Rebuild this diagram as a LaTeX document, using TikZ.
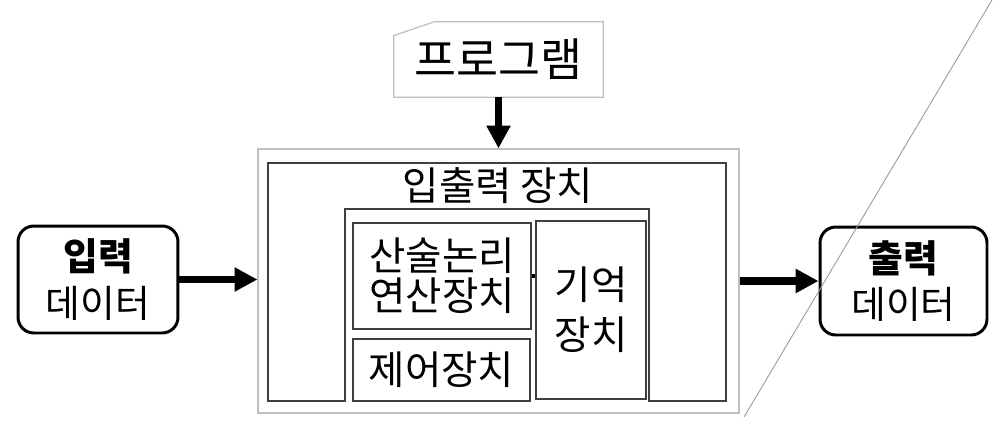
\documentclass[tikz,border=0pt]{standalone}
\usepackage{fontspec}
\setmainfont{Noto Sans CJK KR}
\usetikzlibrary{arrows.meta,calc,positioning}

\begin{document}
\begin{tikzpicture}[
        x=0.02cm,
        y=-0.02cm,
        unit box/.style={
            draw=black!75,line width=0.9pt,inner sep=0pt,align=center,
            font=\fontsize{22.5pt}{22.7pt}\selectfont
        },
        data box/.style={
            draw,line width=1.7pt,rounded corners=9pt,inner sep=0pt,
            align=center,font=\fontsize{21.5pt}{26.6pt}\selectfont
        },
        flow arrow/.style={line width=4.3pt,-{Triangle[width=13pt,length=13pt]}},
        frame line/.style={draw=black!25,line width=0.7pt}
    ]
        \useasboundingbox (0,0) rectangle (1000,426);

        % The program sheet with its cut corner.
        \node[inner sep=0pt,minimum width=4.18cm,minimum height=1.5cm,
            font=\fontsize{26pt}{26pt}\selectfont] (program) at (498.5,59.5) {프로그램};
        \draw[frame line]
            ($(program.north west)+(0,14)$)
            -- ($(program.north west)+(41,0)$)
            -- (program.north east) -- (program.south east)
            -- (program.south west) -- cycle;

        % The computer: a light frame round the input/output unit.
        \node[frame line,minimum width=9.62cm,minimum height=5.28cm] (system) at (498.5,281) {};
        \draw[draw=black!75,line width=0.9pt]
            (268,163) -- (726,163) -- (726,401) -- (649,401)
            -- (649,209) -- (345,209) -- (345,401) -- (268,401) -- cycle;
        \node[font=\fontsize{22.5pt}{23pt}\selectfont] (iotitle) at (498,186) {입출력 장치};

        % The units inside.
        \node[unit box,minimum width=3.56cm,minimum height=2.12cm] (alu) at (442,276) {산술논리\\연산장치};
        \node[unit box,minimum width=3.54cm,minimum height=1.24cm] (control) at (441.5,370) {제어장치};
        \node[unit box,minimum width=2.2cm,minimum height=3.56cm,
            font=\fontsize{22.5pt}{28.3pt}\selectfont] (memory) at (591,310) {기억\\장치};
        \draw[line width=1.8pt] (alu.east) -- (alu.east -| memory.west);

        % Data in and out.
        \node[data box,minimum width=3.2cm,minimum height=2.14cm] (input) at (98,279.5) {\textbf{입력}\\데이터};
        \node[data box,minimum width=3.34cm,minimum height=2.16cm] (output) at (903.5,281) {\textbf{출력}\\데이터};

        \draw[flow arrow] (program.south) -- (system.north);
        \draw[flow arrow] (input.east) -- (input.east -| system.west);
        \draw[flow arrow] (system.east |- output.west) -- (output.west);

        % The thin slanted line on the right.
        \draw[black!40,line width=0.5pt] (744,417) -- (992,0);
    \end{tikzpicture}
\end{document}
